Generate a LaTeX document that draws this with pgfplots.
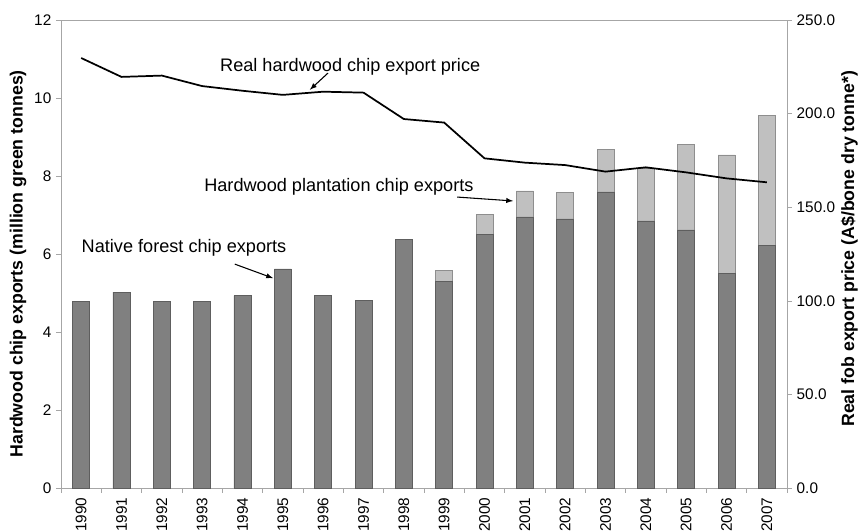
\documentclass[border=0pt]{standalone}
\usepackage{pgfplots}
\pgfplotsset{compat=1.18}
\usepackage{fontspec}
\setmainfont{Liberation Sans}
\definecolor{darkbar}{HTML}{808080}
\definecolor{darkedge}{HTML}{5E5E5E}
\definecolor{lightbar}{HTML}{C0C0C0}
\definecolor{lightedge}{HTML}{8E8E8E}
\definecolor{axisgray}{HTML}{A6A6A6}
\begin{document}
\begin{tikzpicture}
\begin{axis}[
  name=main,
  scale only axis, width=544.5pt, height=351pt,
  xmin=-0.5, xmax=17.5, ymin=0, ymax=12,
  ybar stacked, bar width=12.75pt,
  ytick={0,2,...,12},
  xtick={-0.5,0.5,...,17.5},
  x tick label as interval,
  xticklabels={1990,1991,1992,1993,1994,1995,1996,1997,1998,1999,2000,2001,2002,2003,2004,2005,2006,2007},
  xticklabel style={rotate=90, anchor=east, font=\fontsize{11.5}{13}\selectfont},
  yticklabel style={font=\fontsize{11.5}{13}\selectfont},
  /pgf/number format/assume math mode=true,
  tick pos=left, tick align=outside, major tick length=3.75pt,
  axis line style={draw=axisgray},
  every tick/.style={draw=axisgray},
  every axis y label/.style={at={(axis description cs:-0.0592,0.479)}, rotate=90, anchor=center},
  ylabel={\bfseries Hardwood chip exports (million green tonnes)},
  label style={font=\fontsize{13.3}{15}\selectfont\bfseries},
  clip=false,
]
\addplot[fill=darkbar, draw=darkedge] coordinates {
(0,4.78) (1,5.02) (2,4.78) (3,4.78) (4,4.93) (5,5.62) (6,4.93) (7,4.82) (8,6.38)
(9,5.30) (10,6.50) (11,6.95) (12,6.90) (13,7.59) (14,6.85) (15,6.62) (16,5.50) (17,6.23)};
\addplot[fill=lightbar, draw=lightedge] coordinates {
(0,0) (1,0) (2,0) (3,0) (4,0) (5,0) (6,0) (7,0) (8,0)
(9,0.28) (10,0.52) (11,0.67) (12,0.68) (13,1.10) (14,1.35) (15,2.20) (16,3.04) (17,3.33)};
\node[font=\fontsize{13.6}{16}\selectfont] at (axis cs:6.67,10.79) {Real hardwood chip export price};
\draw[-latex, thick] (axis cs:6.12,10.64) -- (axis cs:5.67,10.21);
\node[font=\fontsize{13.6}{16}\selectfont] at (axis cs:6.39,7.72) {Hardwood plantation chip exports};
\draw[-latex, thick] (axis cs:9.32,7.46) -- (axis cs:10.71,7.36);
\node[font=\fontsize{13.6}{16}\selectfont] at (axis cs:2.55,6.15) {Native forest chip exports};
\draw[-latex, thick] (axis cs:3.81,5.74) -- (axis cs:4.76,5.38);
\end{axis}
\begin{axis}[
  scale only axis, width=544.5pt, height=351pt,
  xmin=-0.5, xmax=17.5, ymin=0, ymax=250,
  axis x line=none, axis y line*=right,
  ytick={0,50,...,250},
  yticklabel style={font=\fontsize{11.5}{13}\selectfont, /pgf/number format/.cd, fixed, fixed zerofill, precision=1},
  /pgf/number format/assume math mode=true,
  tick align=outside, major tick length=3.75pt,
  axis line style={draw=axisgray, -},
  every tick/.style={draw=axisgray},
  every axis y label/.style={at={(axis description cs:1.086,0.511)}, rotate=90, anchor=center},
  ylabel={\bfseries Real fob export price (A\$/bone dry tonne*)},
  label style={font=\fontsize{13.3}{15}\selectfont\bfseries},
]
\addplot[black, line width=1.3pt, mark=none] coordinates {
(0,229.7) (1,219.6) (2,220.3) (3,214.7) (4,212.2) (5,210.0) (6,211.7) (7,211.2) (8,197.1)
(9,195.2) (10,176.1) (11,173.8) (12,172.5) (13,169.0) (14,171.3) (15,168.6) (16,165.4) (17,163.3)};
\end{axis}
\pgfresetboundingbox
\path ([xshift=-45.75pt,yshift=-33pt]main.south west) rectangle ([xshift=55.5pt,yshift=15pt]main.north east);
\end{tikzpicture}
\end{document}
